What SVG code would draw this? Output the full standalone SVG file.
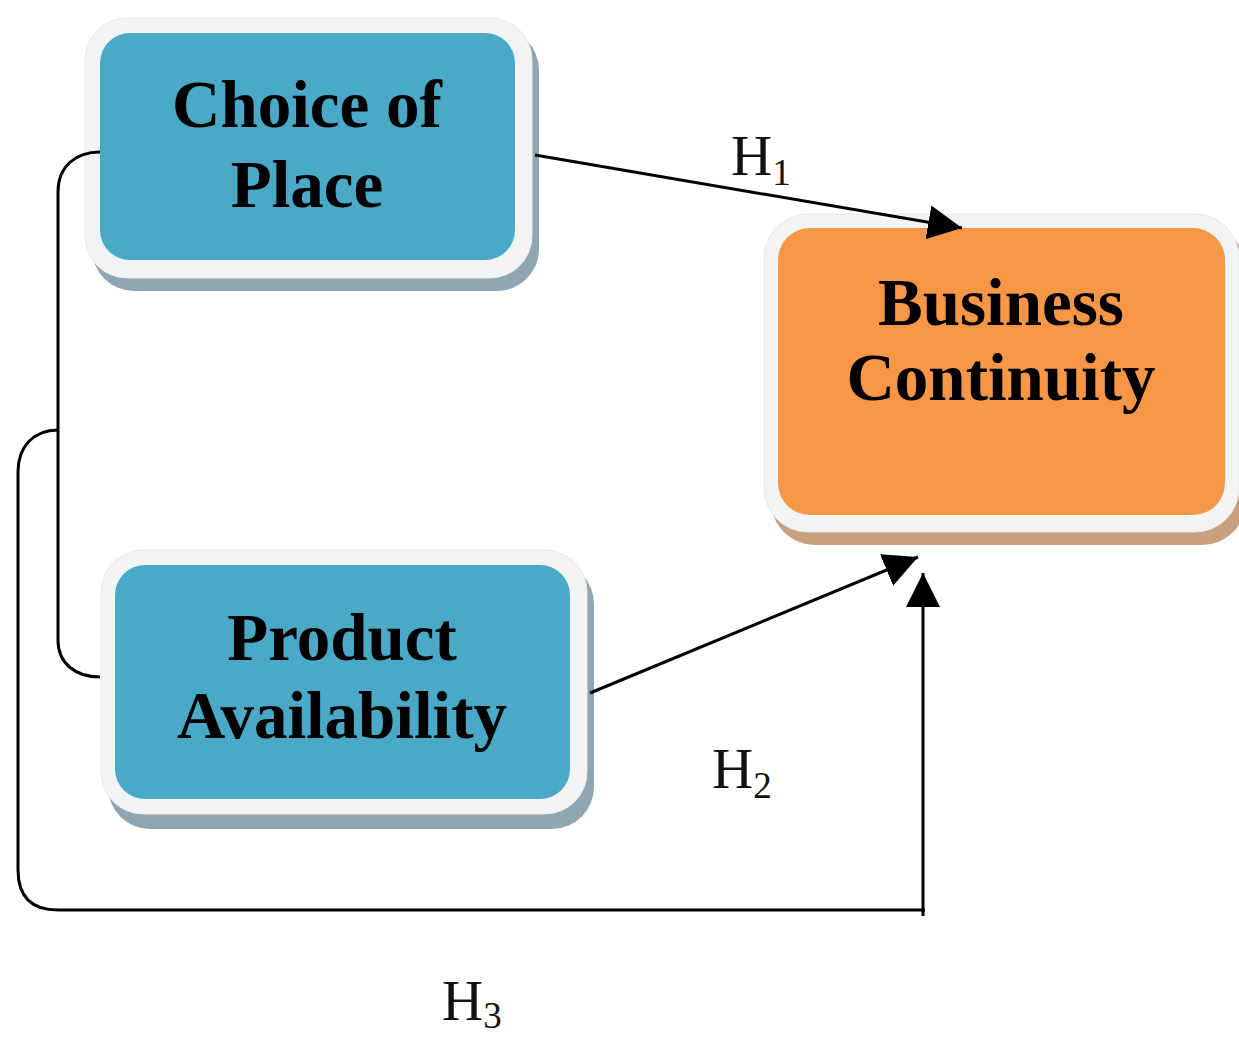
<svg xmlns="http://www.w3.org/2000/svg" width="1239" height="1038" viewBox="0 0 1239 1038">
<style>
.frame{fill:#f1f3f4;stroke:#e6eaec;stroke-width:1}
.shB{fill:#8fa6b2}
.shO{fill:#c9a07e}
.blue{fill:#4aa9c7}
.orange{fill:#f79646}
.lbl{font-family:"Liberation Serif","Times New Roman",serif;font-weight:bold;font-size:67px;fill:#000;text-anchor:middle}
.h{font-family:"Liberation Serif","Times New Roman",serif;font-size:57px;fill:#111}
.sub{font-size:37px}
.conn{fill:none;stroke:#000;stroke-width:3}
</style>
<defs>
<marker id="arr" markerUnits="userSpaceOnUse" markerWidth="36" markerHeight="34" refX="34" refY="17" orient="auto">
<path d="M0,0 L34,17 L0,34 Z" fill="#000"/>
</marker>
</defs>
<g id="node-choice">
<rect class="shB" x="92" y="28" width="447" height="263" rx="42"/>
<rect class="frame" x="85" y="18" width="447" height="260" rx="42"/>
<rect class="blue" x="100" y="33" width="415" height="227" rx="30"/>
<text class="lbl" x="307" y="127">Choice of</text>
<text class="lbl" x="307" y="207">Place</text>
</g>
<g id="node-business">
<rect class="shO" x="771" y="225" width="475" height="320" rx="44"/>
<rect class="frame" x="764" y="214" width="475" height="318" rx="44"/>
<rect class="orange" x="778" y="228" width="447" height="287" rx="32"/>
<text class="lbl" x="1001" y="325">Business</text>
<text class="lbl" x="1001" y="400">Continuity</text>
</g>
<g id="node-product">
<rect class="shB" x="108" y="562" width="486" height="267" rx="42"/>
<rect class="frame" x="101" y="550" width="486" height="264" rx="42"/>
<rect class="blue" x="115" y="565" width="455" height="234" rx="30"/>
<text class="lbl" x="342" y="660">Product</text>
<text class="lbl" x="342" y="738">Availability</text>
</g>
<g id="connectors">
<path class="conn" d="M100,152 C76,152 58,166 58,192 L58,640 C58,664 76,677 100,677"/>
<path class="conn" d="M58,430 C34,430 18,446 18,472 L18,870 Q18,910 58,910 L925,910"/>
<path class="conn" d="M923,916 L923,573" marker-end="url(#arr)"/>
<path class="conn" d="M535,155 L962,228" marker-end="url(#arr)"/>
<path class="conn" d="M590,693 L918,557" marker-end="url(#arr)"/>
</g>
<g id="labels">
<text class="h" x="731" y="175">H<tspan class="sub" dy="10">1</tspan></text>
<text class="h" x="712" y="788">H<tspan class="sub" dy="10">2</tspan></text>
<text class="h" x="442" y="1020">H<tspan class="sub" dy="8">3</tspan></text>
</g>
</svg>
